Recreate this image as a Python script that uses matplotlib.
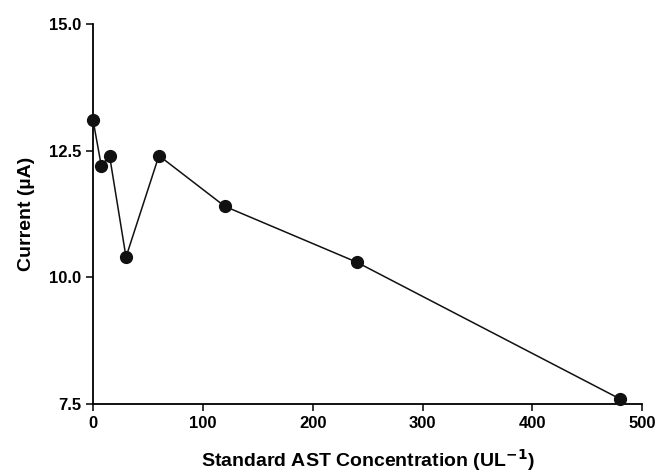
import matplotlib
matplotlib.use("Agg")
import matplotlib.pyplot as plt

conc = [0, 7.5, 15, 30, 60, 120, 240, 480]
current = [13.1, 12.2, 12.4, 10.4, 12.4, 11.4, 10.3, 7.6]
xticks = [0, 100, 200, 300, 400, 500]
yticks = [7.5, 10.0, 12.5, 15.0]

plt.rcParams['font.family'] = ['Liberation Sans', 'DejaVu Sans']
plt.rcParams['font.weight'] = 'bold'
plt.rcParams['mathtext.default'] = 'bf'

fig = plt.figure(figsize=(6.6, 4.76), dpi=100)
ax = fig.add_axes([0.141, 0.151, 0.832, 0.799])
ax.plot(conc, current, color='#111111', lw=1.1, marker='o', ms=8.5, clip_on=False, zorder=3)

ax.set_xlim(0, 500)
ax.set_ylim(7.5, 15.0)
ax.set_xticks(xticks)
ax.set_yticks(yticks)
ax.set_yticklabels(['%.1f' % v for v in yticks])
for s in ['top', 'right']:
  ax.spines[s].set_visible(False)
for s in ['left', 'bottom']:
  ax.spines[s].set_linewidth(1.3)
ax.tick_params(direction='out', length=5, width=1.1, labelsize=12)
for lab in ax.get_xticklabels() + ax.get_yticklabels():
  lab.set_fontweight('bold')

ax.set_xlabel('Standard AST Concentration (UL$^{-1}$)', fontsize=14, fontweight='bold', labelpad=12)
ax.set_ylabel('Current (\u00b5A)', fontsize=14, fontweight='bold', labelpad=10)

fig.savefig('out.png', dpi=100)
